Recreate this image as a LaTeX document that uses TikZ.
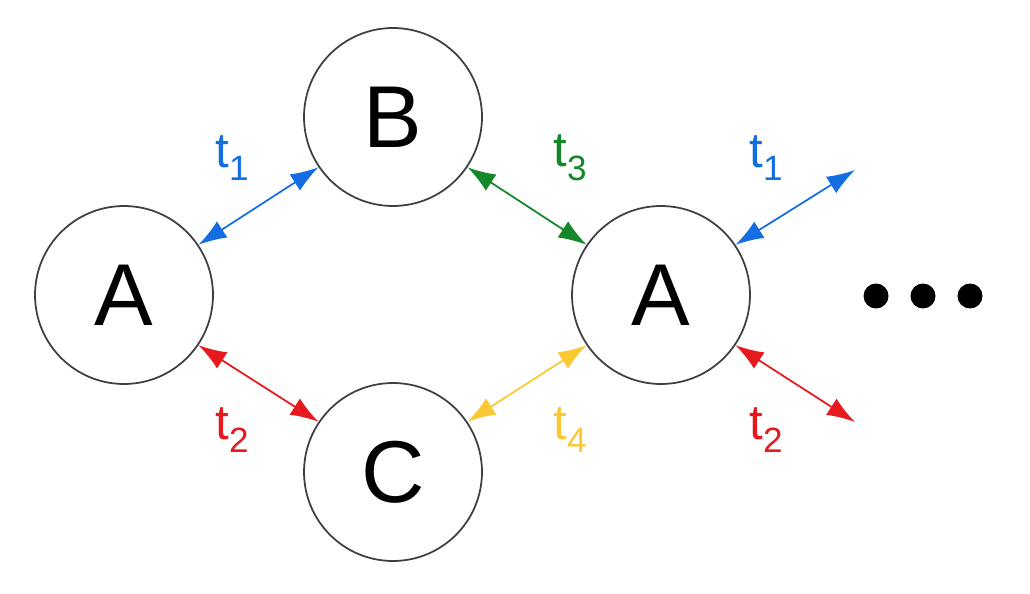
\documentclass[tikz,border=0pt]{standalone}
\usepackage{fontspec}
\setmainfont{Liberation Sans}
\usetikzlibrary{arrows.meta}
\definecolor{cblue}{RGB}{20,110,225}
\definecolor{cred}{RGB}{230,25,30}
\definecolor{cgreen}{RGB}{20,135,40}
\definecolor{cyel}{RGB}{250,200,50}
\definecolor{cgray}{RGB}{60,64,67}
\newcommand{\tsub}[1]{t\raisebox{-0.28em}{\fontsize{20}{20}\selectfont #1}}
\begin{document}
\begin{tikzpicture}[x=0.02cm,y=-0.02cm,
  st/.style={circle,draw=cgray,line width=1pt,minimum size=3.56cm,inner sep=0pt,font=\fontsize{50}{50}\selectfont},
  arr/.style={{Latex[length=16pt,width=11pt]}-{Latex[length=16pt,width=11pt]},line width=1pt},
  lab/.style={font=\fontsize{28}{28}\selectfont},
  dot/.style={circle,fill=black,minimum size=0.5cm,inner sep=0pt}]
\useasboundingbox (0,0) rectangle (1030,594);
\node[st] (A1) at (124,295) {A};
\node[st] (B) at (393,117) {B};
\node[st] (C) at (393,472) {C};
\node[st] (A2) at (661,295) {A};
\coordinate (e1) at (855,170);
\coordinate (e2) at (855,422);
\node[dot] (d1) at (876,296) {};
\node[dot] (d2) at (923,296) {};
\node[dot] (d3) at (970,296) {};
\draw[arr,cblue] (A1.34) -- (B.214);
\draw[arr,cred] (A1.-34) -- (C.146);
\draw[arr,cgreen] (B.-34) -- (A2.146);
\draw[arr,cyel] (C.34) -- (A2.214);
\draw[arr,cblue] (A2.34) -- (e1);
\draw[arr,cred] (A2.-34) -- (e2);
\node[lab,text=cblue] (l1) at (232,158) {\tsub{1}};
\node[lab,text=cred] (l2) at (232,430) {\tsub{2}};
\node[lab,text=cgreen] (l3) at (570,158) {\tsub{3}};
\node[lab,text=cyel] (l4) at (570,430) {\tsub{4}};
\node[lab,text=cblue] (l5) at (766,158) {\tsub{1}};
\node[lab,text=cred] (l6) at (766,430) {\tsub{2}};
\end{tikzpicture}
\end{document}
